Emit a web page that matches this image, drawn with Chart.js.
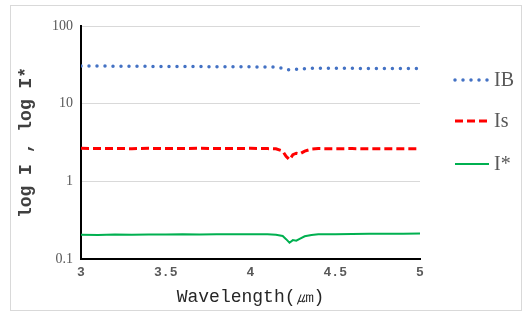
<!DOCTYPE html>
<html><head><meta charset="utf-8">
<script src="https://cdn.jsdelivr.net/npm/chart.js@4.4.1/dist/chart.umd.min.js"></script>
<style>html,body{margin:0;padding:0;background:#fff}#wrap{width:524px;height:316px;position:relative}</style>
</head><body><div id="wrap"><canvas id="c" width="524" height="316"></canvas></div>
<script>
const wavelength = [3.0,3.1,3.2,3.3,3.4,3.5,3.6,3.7,3.8,3.9,4.0,4.1,4.15,4.19,4.21,4.23,4.25,4.27,4.29,4.32,4.36,4.4,4.5,4.6,4.7,4.8,4.9,5.0];
const IB = [30.6,30.5,30.4,30.3,30.2,30.1,30.0,30.0,29.9,29.8,29.8,29.7,29.6,28.6,27.4,27.2,27.6,27.8,27.4,28.3,28.6,28.6,28.5,28.5,28.4,28.4,28.3,28.3];
const Is = [2.66,2.64,2.65,2.63,2.66,2.64,2.65,2.66,2.64,2.65,2.66,2.64,2.62,2.45,2.1,1.9,2.2,2.3,2.25,2.45,2.6,2.64,2.63,2.64,2.62,2.63,2.62,2.63];
const Istar = [0.205,0.204,0.206,0.205,0.207,0.206,0.208,0.207,0.209,0.208,0.209,0.208,0.205,0.198,0.18,0.162,0.175,0.172,0.182,0.196,0.204,0.208,0.209,0.21,0.211,0.212,0.212,0.213];
const yTicks = [0.1,1,10,100];
const xTicks = [3,3.5,4,4.5,5];
const seriesNames = ['IB','Is','I*'];

const pts = arr => wavelength.map((x,i)=>({x, y: arr[i]}));
const styles = [
  {borderColor:'#4472C4', borderWidth:3.5, borderDash:[0,8], borderCapStyle:'round'},
  {borderColor:'#FF0000', borderWidth:3, borderDash:[8,4], borderCapStyle:'butt'},
  {borderColor:'#00B050', borderWidth:2, borderDash:[], borderCapStyle:'butt'}
];
const series = [IB, Is, Istar];
const datasets = series.map((s,i)=>Object.assign({label: seriesNames[i], data: pts(s), pointRadius:0, tension:0, fill:false}, styles[i]));

const frame = {
  id:'frame',
  beforeDraw(chart){
    const ctx = chart.ctx; ctx.save();
    ctx.strokeStyle = '#d9d9d9'; ctx.lineWidth = 1;
    ctx.strokeRect(10.5, 5.5, 511, 305);
    ctx.restore();
  },
  afterDraw(chart){
    const ctx = chart.ctx; ctx.save();
    const ys = [80,121,164];
    chart.data.datasets.forEach((d,i)=>{
      ctx.beginPath();
      ctx.strokeStyle = d.borderColor; ctx.lineWidth = d.borderWidth;
      ctx.setLineDash(d.borderDash); ctx.lineCap = d.borderCapStyle;
      ctx.moveTo(455, ys[i]); ctx.lineTo(489, ys[i]); ctx.stroke();
      ctx.setLineDash([]);
      ctx.fillStyle = '#595959';
      ctx.font = '20px "Liberation Serif"';
      ctx.textBaseline = 'middle';
      ctx.fillText(d.label, 494, ys[i]+1);
    });
    ctx.restore();
  }
};

new Chart(document.getElementById('c'), {
  type:'line',
  data:{datasets},
  plugins:[frame],
  options:{
    responsive:false, animation:false,
    layout:{padding:{left:10, top:26, right:104, bottom:0}},
    plugins:{legend:{display:false}, tooltip:{enabled:false}},
    scales:{
      x:{type:'linear', min:3, max:5,
        afterBuildTicks(s){ s.ticks = xTicks.map(v=>({value:v})); },
        afterFit(s){ s.height = 57; },
        grid:{display:false, drawTicks:false},
        border:{color:'#000', width:2},
        ticks:{color:'#595959', font:{family:'Liberation Mono', size:13, weight:'bold'}, padding:6, maxRotation:0, callback:v=>String(v)},
        title:{display:true, text:'Wavelength(㎛)', color:'#262626', font:{family:'Liberation Mono', size:18}, padding:{top:2,bottom:8}}
      },
      y:{type:'logarithmic', min:0.1, max:100,
        afterBuildTicks(s){ s.ticks = yTicks.map(v=>({value:v})); },
        afterFit(s){ s.width = 71; },
        grid:{color:'#d9d9d9', drawTicks:false},
        border:{color:'#000', width:2},
        ticks:{color:'#595959', font:{family:'Liberation Serif', size:14}, padding:8, callback:v=>String(v)},
        title:{display:true, text:'log I , log I*', color:'#404040', font:{family:'Liberation Mono', size:18, weight:'bold'}, padding:{top:6,bottom:0}}
      }
    }
  }
});
</script></body></html>
